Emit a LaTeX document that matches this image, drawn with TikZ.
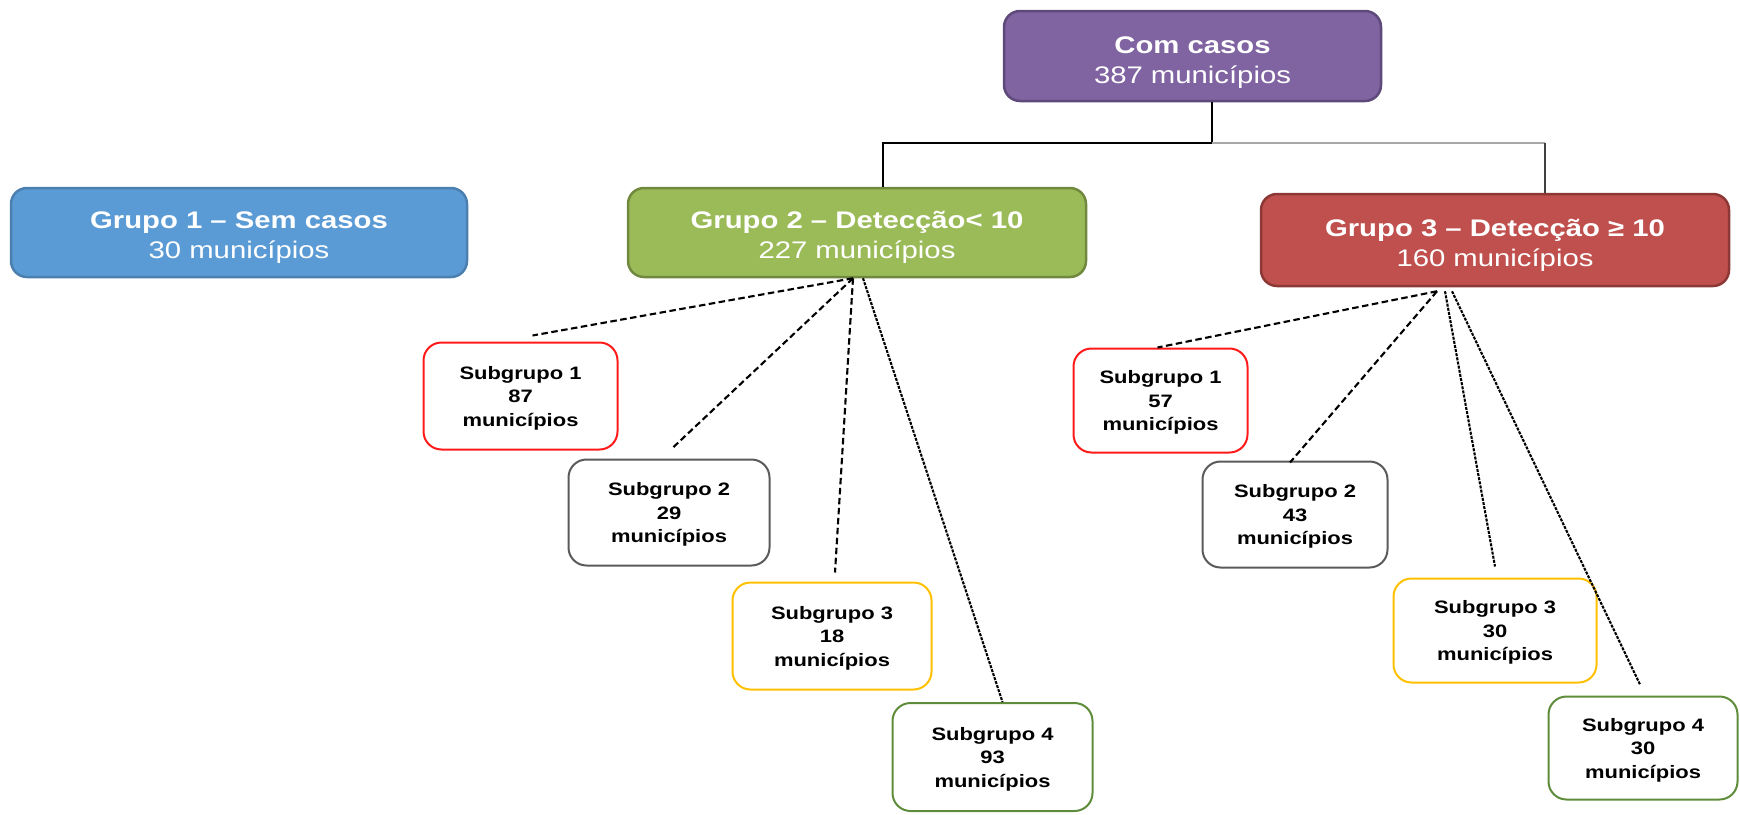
\documentclass[tikz,border=0pt]{standalone}
\usepackage{fontspec}
\setmainfont{Liberation Sans}[FakeStretch=1.22]
\usetikzlibrary{calc}
\definecolor{cpurple}{HTML}{8064A2}
\definecolor{cpurpleD}{HTML}{5E4A7A}
\definecolor{cblue}{HTML}{5B9BD5}
\definecolor{cblueD}{HTML}{4A7FB0}
\definecolor{cgreen}{HTML}{9BBB59}
\definecolor{cgreenD}{HTML}{71893F}
\definecolor{cred}{HTML}{C0504D}
\definecolor{credD}{HTML}{8C3836}
\definecolor{sred}{HTML}{FF1A1A}
\definecolor{sgray}{HTML}{5A5A5A}
\definecolor{syellow}{HTML}{FFC000}
\definecolor{sgreen}{HTML}{5E8C3A}
\definecolor{lgray}{HTML}{A8A8A8}
\newcommand{\mygtop}{\rule{0pt}{28pt}}
\newcommand{\mygtopc}{\rule{0pt}{31pt}}
\newcommand{\mygbot}{\rule[-6pt]{0pt}{0pt}}
\newcommand{\mystop}{\rule{0pt}{18pt}}
\newcommand{\mysbot}{\rule[-4.4pt]{0pt}{0pt}}
\begin{document}
\begin{tikzpicture}[x=1pt,y=-1pt,
  grp/.style={draw, line width=2.5pt, rounded corners=16pt, text=white, align=center,
    font=\fontsize{24}{30}\selectfont, inner sep=0pt},
  sub/.style={draw, fill=white, line width=2pt, rounded corners=18pt, align=center,
    font=\fontsize{18}{23.5}\selectfont\bfseries, inner sep=0pt},
  dashA/.style={line width=2.1pt, dash pattern=on 6.5pt off 3.5pt},
  dashB/.style={line width=2.1pt, dash pattern=on 3pt off 1.2pt},
  tree/.style={line width=1.6pt}]
\useasboundingbox (0,0) rectangle (1740,814);

% main boxes
\node[grp, fill=cpurple, draw=cpurpleD, minimum width=377pt, minimum height=90pt] (cc) at (1192.5,56)
  {\mygtopc\textbf{Com casos}\\387 municípios\mygbot};
\node[grp, fill=cblue, draw=cblueD, minimum width=456pt, minimum height=89pt] (g1) at (239,232.5)
  {\mygtop\textbf{Grupo 1 – Sem casos}\\30 municípios\mygbot};
\node[grp, fill=cgreen, draw=cgreenD, minimum width=458pt, minimum height=89pt] (g2) at (857,232.5)
  {\mygtop\textbf{Grupo 2 – Detecção< 10}\\227 municípios\mygbot};
\node[grp, fill=cred, draw=credD, minimum width=468pt, minimum height=92pt] (g3) at (1495,240)
  {\mygtop\textbf{Grupo 3 – Detecção ≥ 10}\\160 municípios\mygbot};

% subgroups of group 2
\node[sub, draw=sred, minimum width=194pt, minimum height=107pt] (L1) at (520.5,396)
  {\mystop Subgrupo 1\\87\\municípios\mysbot};
\node[sub, draw=sgray, minimum width=201pt, minimum height=106pt] (L2) at (669,512.5)
  {\mystop Subgrupo 2\\29\\municípios\mysbot};
\node[sub, draw=syellow, minimum width=199pt, minimum height=107pt] (L3) at (832,636)
  {\mystop Subgrupo 3\\18\\municípios\mysbot};
\node[sub, draw=sgreen, minimum width=200pt, minimum height=108pt] (L4) at (992.5,757)
  {\mystop Subgrupo 4\\93\\municípios\mysbot};

% subgroups of group 3
\node[sub, draw=sred, minimum width=174pt, minimum height=104pt] (R1) at (1160.5,400.5)
  {\mystop Subgrupo 1\\57\\municípios\mysbot};
\node[sub, draw=sgray, minimum width=185pt, minimum height=106pt] (R2) at (1295,514.5)
  {\mystop Subgrupo 2\\43\\municípios\mysbot};
\node[sub, draw=syellow, minimum width=203pt, minimum height=104pt] (R3) at (1495,630.5)
  {\mystop Subgrupo 3\\30\\municípios\mysbot};
\node[sub, draw=sgreen, minimum width=189pt, minimum height=103pt] (R4) at (1643,748)
  {\mystop Subgrupo 4\\30\\municípios\mysbot};

% tree connector
\coordinate (j1) at (1212,143);
\coordinate (j2) at (883,143);
\coordinate (j3) at (1545,143);
\draw[tree] (cc.south -| j1) -- (j1) -- (j2) -- (j2 |- g2.north);
\draw[tree, draw=lgray] (j1) -- (j3);
\draw[tree, draw=black!75] (j3) -- (j3 |- g3.north);

% dashed connectors group 2
\draw[dashA] ([xshift=-4pt]g2.south) -- ([xshift=12pt,yshift=6pt]L1.north);
\draw[dashA] ([xshift=-4pt]g2.south) -- ([xshift=4pt,yshift=11pt]L2.north);
\draw[dashA] ([xshift=-4pt]g2.south) -- ([xshift=3pt,yshift=9pt]L3.north);
\draw[dashB] ([xshift=6pt]g2.south) -- ([xshift=10pt]L4.north);

% dashed connectors group 3
\draw[dashA] ([xshift=-58pt,yshift=-4pt]g3.south) -- ([xshift=-3pt]R1.north);
\draw[dashA] ([xshift=-58pt,yshift=-4pt]g3.south) -- ([xshift=-5pt,yshift=-2pt]R2.north);
\draw[dashB] ([xshift=-50pt,yshift=-4pt]g3.south) -- ([yshift=11pt]R3.north);
\draw[dashB] ([xshift=-43pt,yshift=-4pt]g3.south) -- ([xshift=-3pt,yshift=11pt]R4.north);
\end{tikzpicture}
\end{document}
